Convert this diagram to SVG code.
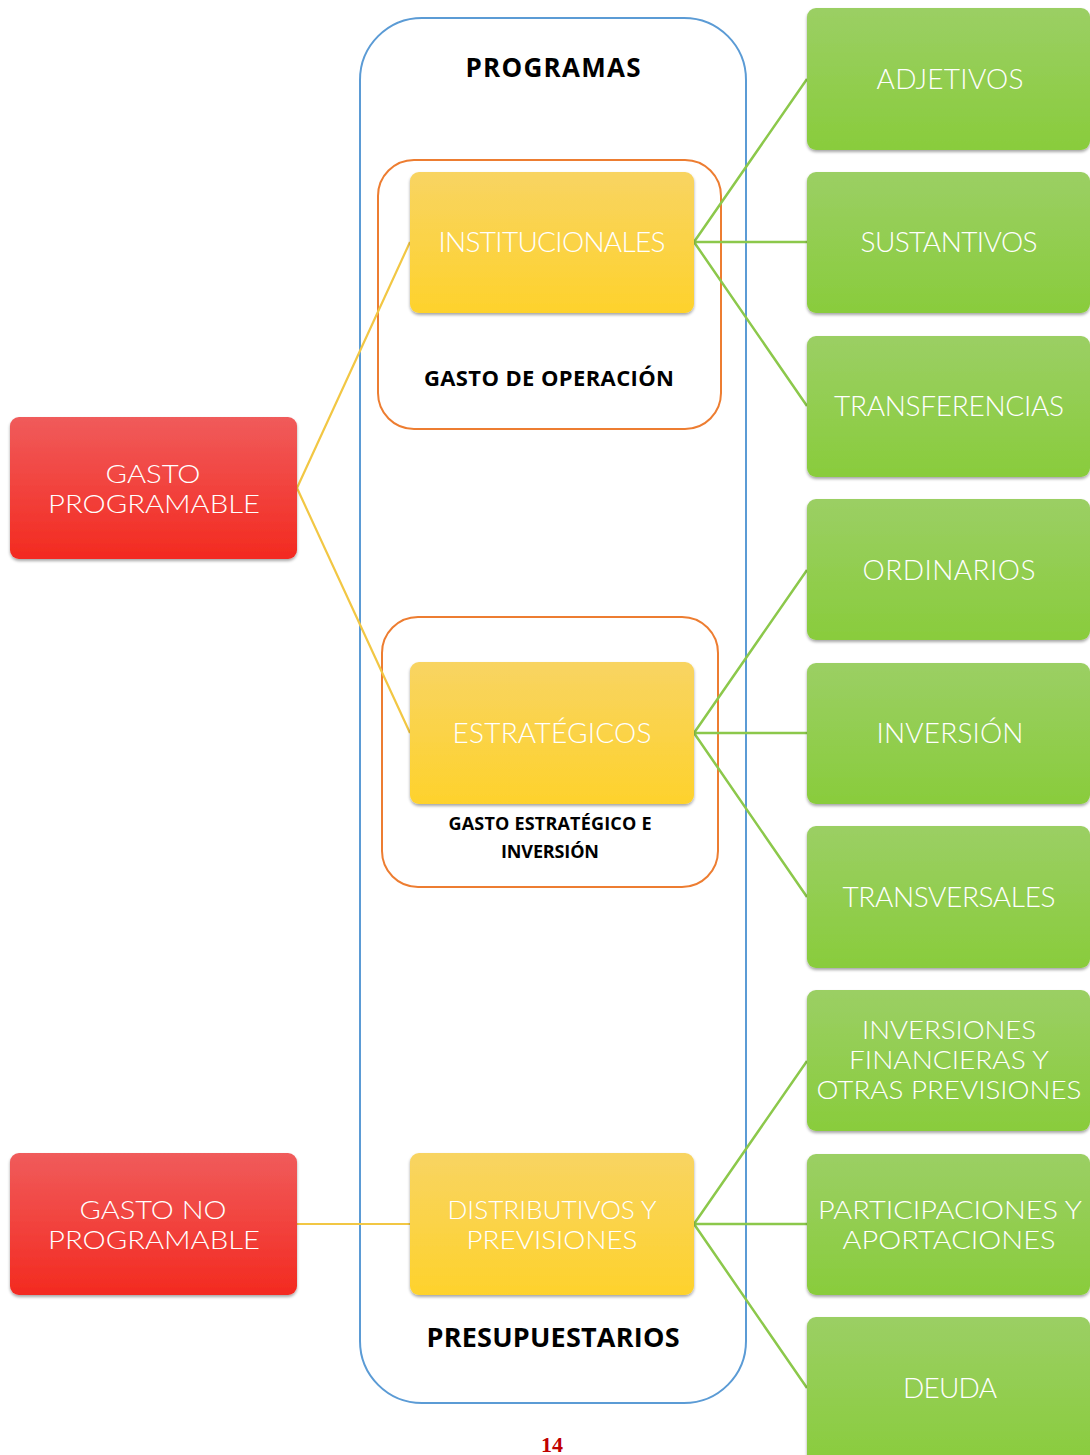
<svg xmlns="http://www.w3.org/2000/svg" width="1090" height="1455" viewBox="0 0 1090 1455">
<defs>
<linearGradient id="gRed" x1="0" y1="0" x2="0" y2="1"><stop offset="0" stop-color="#f05b5b"/><stop offset="1" stop-color="#f32a20"/></linearGradient>
<linearGradient id="gYel" x1="0" y1="0" x2="0" y2="1"><stop offset="0" stop-color="#f8d462"/><stop offset="1" stop-color="#fed22c"/></linearGradient>
<linearGradient id="gGrn" x1="0" y1="0" x2="0" y2="1"><stop offset="0" stop-color="#9bcf64"/><stop offset="1" stop-color="#89cc3c"/></linearGradient>
<filter id="sh" x="-5%" y="-5%" width="110%" height="115%"><feDropShadow dx="0" dy="2" stdDeviation="1.5" flood-color="#000" flood-opacity="0.35"/></filter>
</defs>
<style>
.red{fill:url(#gRed);filter:url(#sh)}
.yel{fill:url(#gYel);filter:url(#sh)}
.grn{fill:url(#gGrn);filter:url(#sh)}
.nt{font-family:Lato,"Open Sans","Liberation Sans",sans-serif;font-weight:300;font-size:28px;fill:#fff;text-anchor:middle}
.nt2{font-size:24.5px}
.lb{font-family:"Open Sans","Liberation Sans",sans-serif;font-weight:bold;fill:#000;text-anchor:middle}
.cy{stroke:#f2c744;stroke-width:2.2;fill:none}
.cg{stroke:#8cc84b;stroke-width:2.5;fill:none}
.frame{fill:none;stroke:#5b9bd5;stroke-width:2}
.org{fill:none;stroke:#ed7d31;stroke-width:2}
</style>
<rect width="1090" height="1455" fill="#fff"/>
<g id="frame-programas"><rect class="frame" x="360" y="18" width="386" height="1385" rx="62"/>
<text class="lb" x="553" y="77" font-size="26" textLength="175">PROGRAMAS</text>
<text class="lb" x="553" y="1347" font-size="27" textLength="253">PRESUPUESTARIOS</text></g>
<g id="frame-operacion"><rect class="org" x="378" y="160" width="343" height="269" rx="36"/>
<text class="lb" x="549" y="386" font-size="22" textLength="250">GASTO DE OPERACIÓN</text></g>
<g id="frame-estrategico"><rect class="org" x="382" y="617" width="336" height="270" rx="36"/>
<text class="lb" x="550" y="830" font-size="18" textLength="203">GASTO ESTRATÉGICO E</text>
<text class="lb" x="550" y="858" font-size="18" textLength="98">INVERSIÓN</text></g>
<g id="connectors">
<path class="cy" d="M297 488L410 242M297 488L410 733M297 1224H410"/>
<path class="cg" d="M694 242L807 79M694 242H807M694 242L807 406"/>
<path class="cg" d="M694 733L807 570M694 733H807M694 733L807 897"/>
<path class="cg" d="M694 1224L807 1061M694 1224H807M694 1224L807 1388"/>
</g>
<g id="gasto-programable"><rect class="red" x="10" y="417" width="287" height="142" rx="9"/>
<text class="nt nt2" x="153" y="483" textLength="95" lengthAdjust="spacingAndGlyphs">GASTO</text><text class="nt nt2" x="154" y="513" textLength="212" lengthAdjust="spacingAndGlyphs">PROGRAMABLE</text></g>
<g id="gasto-no-programable"><rect class="red" x="10" y="1153" width="287" height="142" rx="9"/>
<text class="nt nt2" x="153" y="1219" textLength="147" lengthAdjust="spacingAndGlyphs">GASTO NO</text><text class="nt nt2" x="154" y="1249" textLength="212" lengthAdjust="spacingAndGlyphs">PROGRAMABLE</text></g>
<g id="institucionales"><rect class="yel" x="410" y="172" width="284" height="141" rx="9"/>
<text class="nt" x="552" y="252" textLength="227">INSTITUCIONALES</text></g>
<g id="estrategicos"><rect class="yel" x="410" y="662" width="284" height="142" rx="9"/>
<text class="nt" x="552" y="743" textLength="199">ESTRATÉGICOS</text></g>
<g id="distributivos"><rect class="yel" x="410" y="1153" width="284" height="142" rx="9"/>
<text class="nt nt2" x="552" y="1219" textLength="209" lengthAdjust="spacingAndGlyphs">DISTRIBUTIVOS Y</text><text class="nt nt2" x="552" y="1249" textLength="171" lengthAdjust="spacingAndGlyphs">PREVISIONES</text></g>
<g id="adjetivos"><rect class="grn" x="807" y="8" width="283" height="142" rx="9"/><text class="nt" x="950" y="89" textLength="147">ADJETIVOS</text></g>
<g id="sustantivos"><rect class="grn" x="807" y="172" width="283" height="141" rx="9"/><text class="nt" x="949" y="252" textLength="177">SUSTANTIVOS</text></g>
<g id="transferencias"><rect class="grn" x="807" y="336" width="283" height="141" rx="9"/><text class="nt" x="949" y="416" textLength="230">TRANSFERENCIAS</text></g>
<g id="ordinarios"><rect class="grn" x="807" y="499" width="283" height="141" rx="9"/><text class="nt" x="949" y="580" textLength="173">ORDINARIOS</text></g>
<g id="inversion"><rect class="grn" x="807" y="663" width="283" height="141" rx="9"/><text class="nt" x="950" y="743" textLength="147">INVERSIÓN</text></g>
<g id="transversales"><rect class="grn" x="807" y="826" width="283" height="142" rx="9"/><text class="nt" x="949" y="907" textLength="213">TRANSVERSALES</text></g>
<g id="inversiones-financieras"><rect class="grn" x="807" y="990" width="283" height="141" rx="9"/>
<text class="nt nt2" x="949" y="1039" textLength="174" lengthAdjust="spacingAndGlyphs">INVERSIONES</text><text class="nt nt2" x="949" y="1069" textLength="200" lengthAdjust="spacingAndGlyphs">FINANCIERAS Y</text><text class="nt nt2" x="949" y="1099" textLength="265" lengthAdjust="spacingAndGlyphs">OTRAS PREVISIONES</text></g>
<g id="participaciones"><rect class="grn" x="807" y="1154" width="283" height="141" rx="9"/>
<text class="nt nt2" x="950" y="1219" textLength="264" lengthAdjust="spacingAndGlyphs">PARTICIPACIONES Y</text><text class="nt nt2" x="949" y="1249" textLength="213" lengthAdjust="spacingAndGlyphs">APORTACIONES</text></g>
<g id="deuda"><rect class="grn" x="807" y="1317" width="283" height="150" rx="9"/><text class="nt" x="950" y="1398" textLength="94">DEUDA</text></g>
<text x="552" y="1452" font-family="'Liberation Serif',serif" font-weight="bold" font-size="22" fill="#c00000" text-anchor="middle">14</text>
</svg>
